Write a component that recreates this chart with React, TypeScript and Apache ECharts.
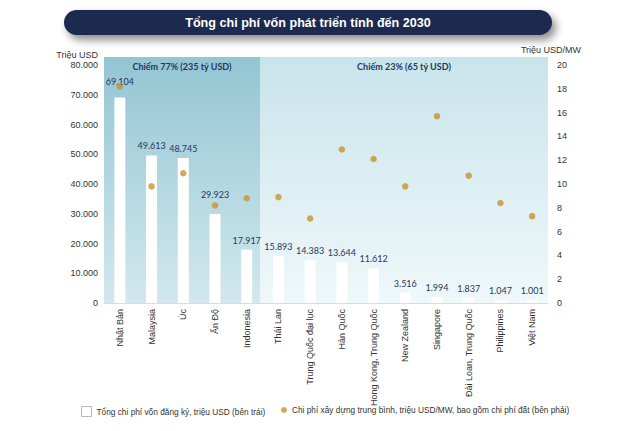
import React, { useEffect, useRef } from "react";
import * as echarts from "echarts";

const categories = [
  "Nhật Bản",
  "Malaysia",
  "Úc",
  "Ấn Độ",
  "Indonesia",
  "Thái Lan",
  "Trung Quốc đại lục",
  "Hàn Quốc",
  "Hong Kong, Trung Quốc",
  "New Zealand",
  "Singapore",
  "Đài Loan, Trung Quốc",
  "Philippines",
  "Việt Nam",
];
const capitalCost = [69104, 49613, 48745, 29923, 17917, 15893, 14383, 13644, 11612, 3516, 1994, 1837, 1047, 1001];
const costPerMW = [18.2, 9.8, 10.9, 8.2, 8.8, 8.9, 7.1, 12.9, 12.1, 9.8, 15.7, 10.7, 8.4, 7.3];
const leftTicks = { min: 0, max: 80000, interval: 10000 };
const rightTicks = { min: 0, max: 20, interval: 2 };

const titleText = "Tổng chi phí vốn phát triển tính đến 2030";
const regionLeftText = "Chiếm 77% (235 tỷ USD)";
const regionRightText = "Chiếm 23% (65 tỷ USD)";
const barName = "Tổng chi phí vốn đăng ký, triệu USD (bên trái)";
const dotName = "Chi phí xây dựng trung bình, triệu USD/MW, bao gồm chi phí đất (bên phải)";

const labelLift: Record<number, number> = { 0: -6, 3: -10 };

const fmt = (n: number) => String(n).replace(/\B(?=(\d{3})+(?!\d))/g, ".");

const SANS = "'Liberation Sans', Arial, sans-serif";
const NUM = "Lato, 'Noto Sans', sans-serif";
const NAVY = "#27375a";

export default function App() {
  const ref = useRef<HTMLDivElement>(null);
  useEffect(() => {
    if (!ref.current) return;
    const chart = echarts.init(ref.current, undefined, { renderer: "svg" });
    const gridL = 104;
    const gridR = 548;
    const gridT = 65;
    const gridB = 303;
    const split = 260;
    chart.setOption({
      animation: false,
      backgroundColor: "#ffffff",
      textStyle: { fontFamily: SANS },
      grid: { left: gridL, right: 640 - gridR, top: gridT, bottom: 431 - gridB },
      graphic: [
        {
          type: "rect",
          z: 0,
          shape: { x: gridL, y: 57, width: split - gridL, height: gridB - 57 },
          style: {
            fill: new echarts.graphic.LinearGradient(0, 0, 0, 1, [
              { offset: 0, color: "#93c5d3" },
              { offset: 1, color: "#d2e8ee" },
            ]),
          },
        },
        {
          type: "rect",
          z: 0,
          shape: { x: split, y: 57, width: gridR - split, height: gridB - 57 },
          style: {
            fill: new echarts.graphic.LinearGradient(0, 0, 0, 1, [
              { offset: 0, color: "#c8e4eb" },
              { offset: 1, color: "#eff8fa" },
            ]),
          },
        },
        {
          type: "text",
          z: 1,
          x: (gridL + split) / 2,
          y: 66,
          style: {
            text: regionLeftText,
            align: "center",
            verticalAlign: "middle",
            fill: NAVY,
            fontSize: 9,
            fontWeight: "bold",
            fontFamily: NUM,
          },
        },
        {
          type: "text",
          z: 1,
          x: (split + gridR) / 2,
          y: 66,
          style: {
            text: regionRightText,
            align: "center",
            verticalAlign: "middle",
            fill: NAVY,
            fontSize: 9,
            fontWeight: "bold",
            fontFamily: NUM,
          },
        },
        {
          type: "rect",
          z: 5,
          shape: { x: 64, y: 10, width: 488, height: 25, r: 12.5 },
          style: {
            fill: "#1c2b50",
            shadowColor: "rgba(0,0,0,0.45)",
            shadowBlur: 8,
            shadowOffsetX: 4,
            shadowOffsetY: 5,
          },
        },
        {
          type: "text",
          z: 6,
          x: 308,
          y: 22.5,
          style: {
            text: titleText,
            align: "center",
            verticalAlign: "middle",
            fill: "#ffffff",
            fontSize: 12.6,
            fontWeight: "bold",
            fontFamily: SANS,
          },
        },
      ],
      legend: [
        {
          left: 81,
          top: 406,
          padding: 0,
          itemWidth: 10,
          itemHeight: 10,
          itemGap: 0,
          selectedMode: false,
          textStyle: { fontSize: 8.3, color: "#333", fontFamily: SANS },
          data: [
            {
              name: barName,
              icon: "rect",
              itemStyle: { color: "#ffffff", borderColor: "#b5b5b5", borderWidth: 1 },
            },
          ],
        },
        {
          left: 281,
          top: 406,
          padding: 0,
          itemWidth: 6,
          itemHeight: 6,
          itemGap: 0,
          selectedMode: false,
          textStyle: { fontSize: 8.3, color: "#333", fontFamily: SANS },
          data: [{ name: dotName, icon: "circle" }],
        },
      ],
      xAxis: {
        type: "category",
        data: categories,
        axisTick: { show: false },
        axisLine: { lineStyle: { color: "#dcdcdc", width: 1 } },
        axisLabel: {
          rotate: 90,
          interval: 0,
          margin: 6,
          fontSize: 9,
          color: "#333",
          fontFamily: SANS,
        },
      },
      yAxis: [
        {
          type: "value",
          min: leftTicks.min,
          max: leftTicks.max,
          interval: leftTicks.interval,
          name: "Triệu USD",
          nameLocation: "end",
          nameGap: 6,
          nameTextStyle: { align: "right", padding: [0, 6, 0, 0], fontSize: 9, color: "#333", fontFamily: SANS },
          splitLine: { show: false },
          axisLine: { show: false },
          axisTick: { show: false },
          axisLabel: { fontSize: 9, color: "#333", margin: 6, formatter: (v: number) => fmt(v), fontFamily: SANS },
        },
        {
          type: "value",
          min: rightTicks.min,
          max: rightTicks.max,
          interval: rightTicks.interval,
          name: "Triệu USD/MW",
          nameLocation: "end",
          nameGap: 11,
          nameTextStyle: { align: "center", padding: [0, 0, 0, 6], fontSize: 9, color: "#333", fontFamily: SANS },
          splitLine: { show: false },
          axisLine: { show: false },
          axisTick: { show: false },
          axisLabel: { fontSize: 9, color: "#333", margin: 9, fontFamily: SANS },
        },
      ],
      series: [
        {
          name: barName,
          type: "bar",
          yAxisIndex: 0,
          barWidth: 11,
          z: 2,
          itemStyle: { color: "#ffffff" },
          label: {
            show: true,
            position: "top",
            distance: 5,
            fontSize: 9,
            color: NAVY,
            fontFamily: NUM,
            formatter: (p: any) => fmt(p.value),
          },
          data: capitalCost.map((v, i) =>
            labelLift[i] !== undefined ? { value: v, label: { offset: [0, labelLift[i]] } } : v
          ),
        },
        {
          name: dotName,
          type: "scatter",
          yAxisIndex: 1,
          symbol: "circle",
          symbolSize: 6.5,
          z: 3,
          itemStyle: { color: "#c9922f" },
          data: costPerMW,
        },
      ],
    });
    return () => chart.dispose();
  }, []);
  return (
    <div
      ref={ref}
      style={{ position: "absolute", left: 0, top: 0, width: 640, height: 431 }}
    />
  );
}
